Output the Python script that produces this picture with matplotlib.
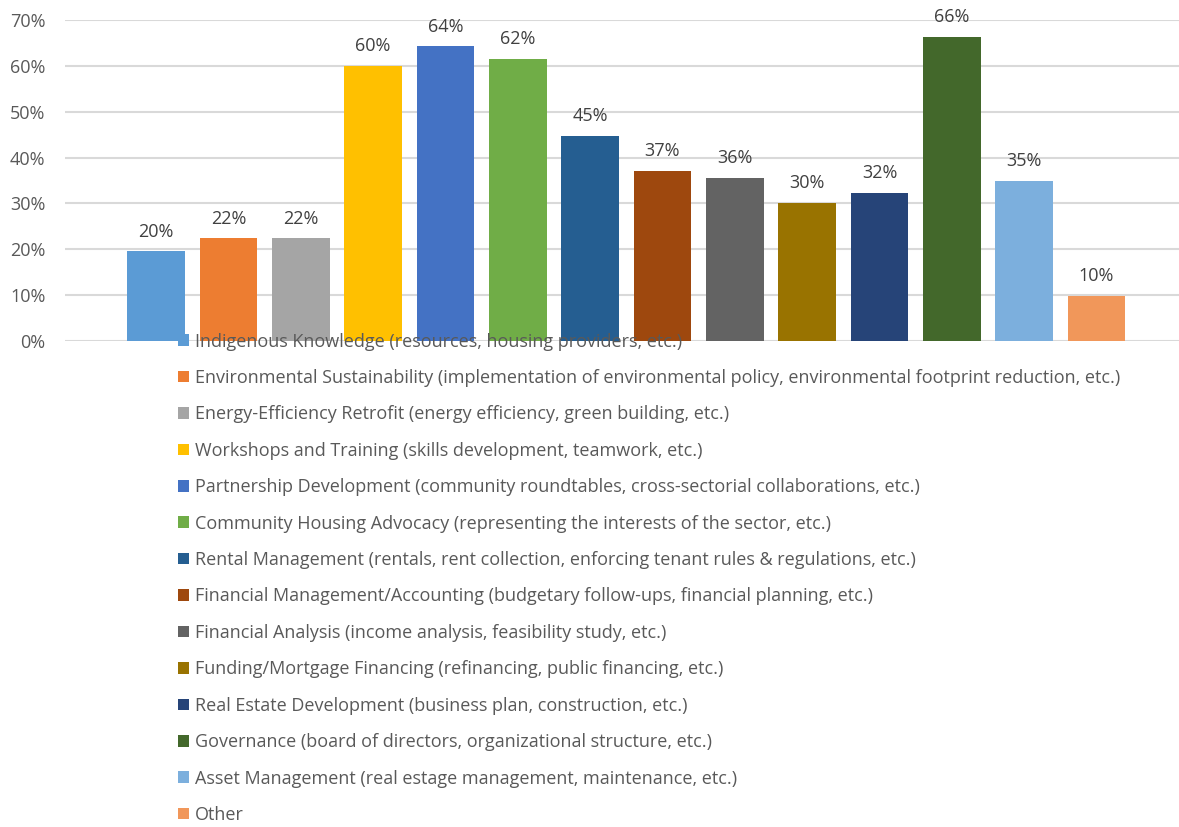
import matplotlib.pyplot as plt
from matplotlib.patches import Patch

plt.rcParams['font.family'] = ['Open Sans', 'DejaVu Sans']

# share of respondents per training topic
topics = [
    "Indigenous Knowledge (resources, housing providers, etc.)",
    "Environmental Sustainability (implementation of environmental policy, environmental footprint reduction, etc.)",
    "Energy-Efficiency Retrofit (energy efficiency, green building, etc.)",
    "Workshops and Training (skills development, teamwork, etc.)",
    "Partnership Development (community roundtables, cross-sectorial collaborations, etc.)",
    "Community Housing Advocacy (representing the interests of the sector, etc.)",
    "Rental Management (rentals, rent collection, enforcing tenant rules & regulations, etc.)",
    "Financial Management/Accounting (budgetary follow-ups, financial planning, etc.)",
    "Financial Analysis (income analysis, feasibility study, etc.)",
    "Funding/Mortgage Financing (refinancing, public financing, etc.)",
    "Real Estate Development (business plan, construction, etc.)",
    "Governance (board of directors, organizational structure, etc.)",
    "Asset Management (real estage management, maintenance, etc.)",
    "Other",
]
shares = [0.196, 0.224, 0.224, 0.600, 0.643, 0.615, 0.447,
          0.371, 0.356, 0.301, 0.323, 0.663, 0.349, 0.099]
colors = ['#5B9BD5', '#ED7D31', '#A5A5A5', '#FFC000', '#4472C4', '#70AD47',
          '#255E91', '#9E480E', '#636363', '#997300', '#264478', '#43682B',
          '#7CAFDD', '#F1975A']
yticks = [0, 0.1, 0.2, 0.3, 0.4, 0.5, 0.6, 0.7]

txt = '#595959'
fs = 13

fig = plt.figure(figsize=(11.79, 8.27), dpi=100)
ax = fig.add_axes([0.0551, 0.5877, 0.9449, 0.3881])

x = list(range(len(shares)))
bars = ax.bar(x, shares, width=0.8, color=colors, zorder=2)

for xi, v in zip(x, shares):
    ax.annotate(f"{v:.0%}", (xi, v), xytext=(0, 10.5), textcoords='offset points',
                ha='center', va='baseline', fontsize=fs, color='#404040')

ax.set_xlim(-1.26, 14.14)
ax.set_ylim(0, 0.7)
ax.set_yticks(yticks)
ax.set_yticklabels([f"{t:.0%}" for t in yticks], fontsize=fs, color=txt)
ax.tick_params(axis='y', length=0, pad=14)
ax.set_xticks([])
ax.grid(axis='y', color='#D9D9D9', linewidth=1.5, zorder=0)
for s in ax.spines.values():
    s.set_visible(False)

handles = [Patch(facecolor=c, edgecolor='none') for c in colors]
fig.legend(handles, topics, loc='upper left', bbox_to_anchor=(0.151, 0.5979),
           frameon=False, fontsize=fs, labelcolor=txt,
           handlelength=0.61, handleheight=0.61, handletextpad=0.33,
           labelspacing=1.02, borderpad=0, borderaxespad=0)

fig.savefig('out.png', dpi=100)
